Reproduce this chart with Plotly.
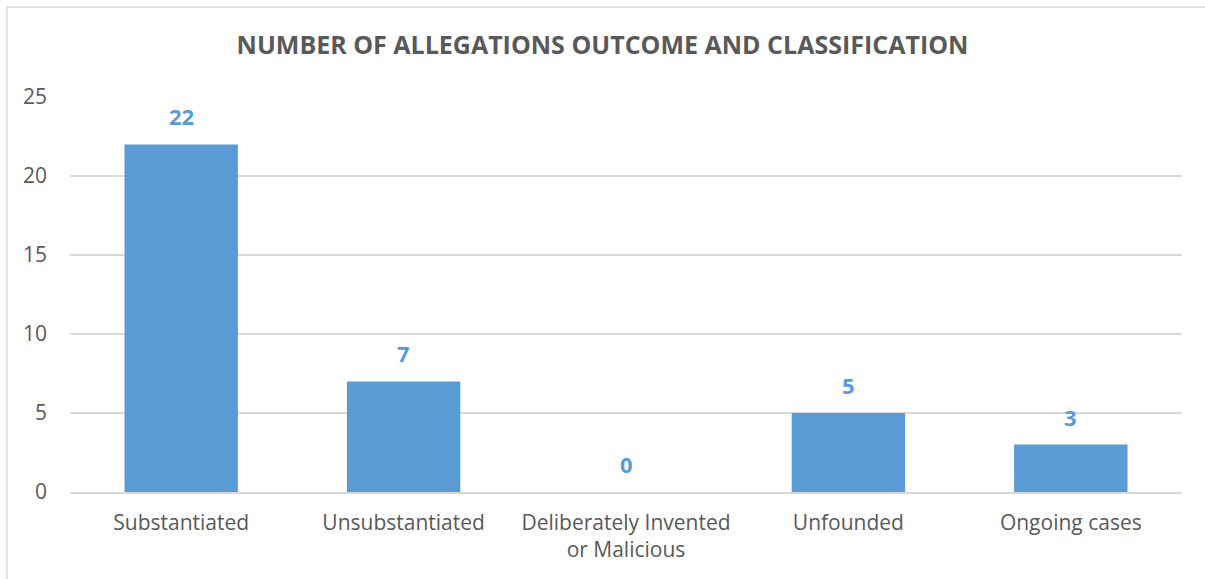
import plotly.graph_objects as go

categories = ["Substantiated", "Unsubstantiated", "Deliberately Invented<br>or Malicious",
              "Unfounded", "Ongoing cases"]
counts = [22, 7, 0, 5, 3]
y_ticks = [0, 5, 10, 15, 20, 25]

BAR_BLUE = "#5B9BD5"
TEXT_GREY = "#595959"
GRID_GREY = "#D9D9D9"
FONT = "'Open Sans', sans-serif"

fig = go.Figure(
    go.Bar(
        x=categories,
        y=counts,
        marker=dict(color=BAR_BLUE, line=dict(width=0)),
        hoverinfo="x+y",
    )
)

# value labels above each bar
for cat, val in zip(categories, counts):
    fig.add_annotation(
        x=cat, y=val, text=f"<b>{val}</b>", showarrow=False,
        yanchor="bottom", yshift=11,
        font=dict(family=FONT, size=22, color=BAR_BLUE),
    )

# light frame around the chart area
fig.add_shape(
    type="rect", xref="paper", yref="paper",
    x0=-0.0567, x1=1.03, y0=-0.25, y1=1.228,
    line=dict(color=GRID_GREY, width=1.5), fillcolor="rgba(0,0,0,0)", layer="below",
)

fig.update_layout(
    width=1205, height=579,
    margin=dict(l=70, r=23, t=97, b=87),
    paper_bgcolor="white", plot_bgcolor="white",
    bargap=0.49,
    showlegend=False,
    title=dict(
        text="<b>NUMBER OF ALLEGATIONS OUTCOME AND CLASSIFICATION</b>",
        x=0.5, xanchor="center", y=0.922, yanchor="middle",
        font=dict(family=FONT, size=25, color=TEXT_GREY),
    ),
    font=dict(family=FONT, color=TEXT_GREY),
)

fig.update_xaxes(
    showgrid=False, showline=True, linecolor=GRID_GREY, linewidth=1.5,
    ticks="", tickfont=dict(family=FONT, size=21, color=TEXT_GREY),
    ticklabelstandoff=11,
)
fig.update_yaxes(
    range=[0, 25], tickvals=y_ticks, showgrid=True, gridcolor=GRID_GREY, gridwidth=1.5,
    zeroline=False, showline=False, ticks="",
    tickfont=dict(family=FONT, size=21, color=TEXT_GREY),
    ticklabelstandoff=22,
)

fig.write_html("out.html")
